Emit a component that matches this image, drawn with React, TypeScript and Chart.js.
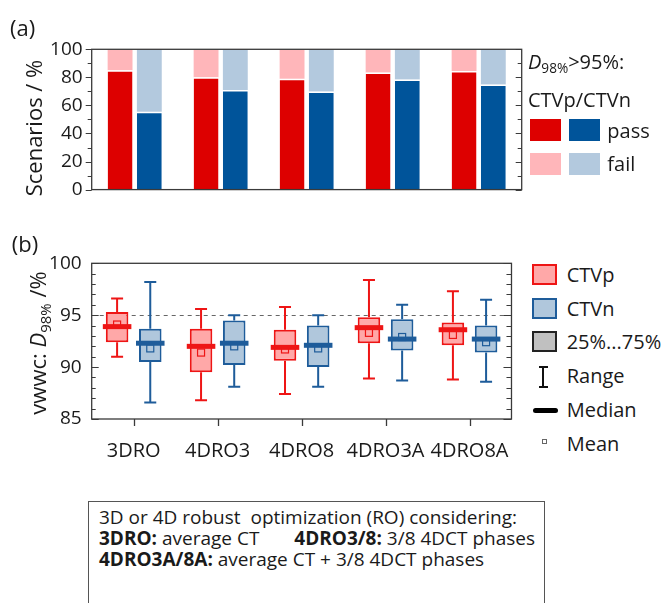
import React, { useEffect, useRef } from 'react';
import { Chart, registerables } from 'chart.js';
Chart.register(...registerables);

const FONT = "'Open Sans', 'DejaVu Sans', sans-serif";
const TEXT = '#1a1a1a';
const FRAME = '#3a3a3a';

// ---------- data ----------
const categories = ['3DRO', '4DRO3', '4DRO8', '4DRO3A', '4DRO8A'];

// panel (a): scenarios passing / failing D98% > 95 %
const passCTVp = [85, 80, 79, 83.5, 84.5];
const failCTVp = [15, 20, 21, 16.5, 15.5];
const passCTVn = [55.5, 71, 70, 78.5, 75];
const failCTVn = [44.5, 29, 30, 21.5, 25];

// panel (b): vwwc D98% box statistics
const ctvpMin = [91.0, 86.8, 87.4, 88.9, 88.8];
const ctvpQ1 = [92.4, 89.5, 90.6, 92.3, 92.1];
const ctvpMedian = [93.9, 92.0, 91.9, 93.8, 93.6];
const ctvpQ3 = [95.3, 93.7, 93.6, 94.8, 94.3];
const ctvpMax = [96.6, 95.6, 95.8, 98.4, 97.3];
const ctvpMean = [94.1, 91.4, 91.7, 93.3, 93.1];

const ctvnMin = [86.6, 88.1, 88.1, 88.7, 88.6];
const ctvnQ1 = [90.5, 90.2, 90.0, 91.6, 91.4];
const ctvnMedian = [92.3, 92.3, 92.1, 92.7, 92.7];
const ctvnQ3 = [93.7, 94.5, 94.0, 94.6, 94.0];
const ctvnMax = [98.2, 95.0, 95.0, 96.0, 96.5];
const ctvnMean = [91.8, 92.0, 91.8, 92.9, 92.4];

// ticks
const topMajorTicks = [0, 20, 40, 60, 80, 100];
const topMinorTicks = [10, 30, 50, 70, 90];
const bottomMajorTicks = [85, 90, 95, 100];
const bottomMinorTicks = [86, 87, 88, 89, 91, 92, 93, 94, 96, 97, 98, 99];
const thresholdValue = 95;

// ---------- colours ----------
const RED = '#DD0000';
const PINK = '#FFB6BA';
const BLUE = '#00549A';
const LIGHTBLUE = '#B3C9DE';
const BOX_RED_BORDER = '#EE1515';
const BOX_RED_FILL = '#FFA8A8';
const BOX_BLUE_BORDER = '#1E5C9A';
const BOX_BLUE_FILL = '#B0C7DC';

type FrameCfg = {
  majors: number[];
  minors: number[];
  leftDir: number; // -1 outward, +1 inward
  leftMajor: number;
  leftMinor: number;
  rightMajor: number;
  rightMinor: number;
  xTickLen: number;
};

function makeFramePlugin(cfg: FrameCfg) {
  return {
    id: 'frameTicks',
    afterDraw(chart: any) {
      const { ctx, chartArea: a, scales } = chart;
      const y = scales.y;
      const x = scales.x;
      ctx.save();
      ctx.strokeStyle = FRAME;
      ctx.lineWidth = 1.3;
      ctx.strokeRect(a.left, a.top, a.right - a.left, a.bottom - a.top);
      ctx.lineWidth = 1;
      const hTick = (v: number, x0: number, dx: number) => {
        const py = Math.round(y.getPixelForValue(v)) + 0.5;
        ctx.beginPath();
        ctx.moveTo(x0, py);
        ctx.lineTo(x0 + dx, py);
        ctx.stroke();
      };
      cfg.majors.forEach((v) => {
        hTick(v, a.left, cfg.leftDir * cfg.leftMajor);
        hTick(v, a.right, -cfg.rightMajor);
      });
      cfg.minors.forEach((v) => {
        hTick(v, a.left, cfg.leftDir * cfg.leftMinor);
        hTick(v, a.right, -cfg.rightMinor);
      });
      if (cfg.xTickLen > 0) {
        ctx.lineWidth = 1.3;
        categories.forEach((_, i) => {
          const px = Math.round(x.getPixelForValue(i)) + 0.5;
          ctx.beginPath();
          ctx.moveTo(px, a.bottom);
          ctx.lineTo(px, a.bottom + cfg.xTickLen);
          ctx.stroke();
        });
      }
      ctx.restore();
    },
  };
}

const boxPlugin = {
  id: 'boxExtras',
  beforeDatasetsDraw(chart: any) {
    const { ctx, chartArea: a, scales } = chart;
    const py = Math.round(scales.y.getPixelForValue(thresholdValue)) + 0.5;
    ctx.save();
    ctx.strokeStyle = '#666';
    ctx.lineWidth = 1;
    ctx.setLineDash([4, 4]);
    ctx.beginPath();
    ctx.moveTo(a.left, py);
    ctx.lineTo(a.right, py);
    ctx.stroke();
    ctx.restore();
  },
  afterDatasetsDraw(chart: any) {
    const { ctx, scales } = chart;
    const y = scales.y;
    const groups = [
      { meta: chart.getDatasetMeta(0), min: ctvpMin, q1: ctvpQ1, med: ctvpMedian, q3: ctvpQ3, max: ctvpMax, mean: ctvpMean, color: BOX_RED_BORDER },
      { meta: chart.getDatasetMeta(1), min: ctvnMin, q1: ctvnQ1, med: ctvnMedian, q3: ctvnQ3, max: ctvnMax, mean: ctvnMean, color: BOX_BLUE_BORDER },
    ];
    ctx.save();
    groups.forEach((g) => {
      g.meta.data.forEach((el: any, i: number) => {
        const x = el.x;
        const w = el.width;
        ctx.strokeStyle = g.color;
        ctx.lineWidth = 2;
        ctx.lineCap = 'butt';
        const yMax = y.getPixelForValue(g.max[i]);
        const yMin = y.getPixelForValue(g.min[i]);
        const yQ3 = y.getPixelForValue(g.q3[i]);
        const yQ1 = y.getPixelForValue(g.q1[i]);
        ctx.beginPath();
        ctx.moveTo(x, yQ3);
        ctx.lineTo(x, yMax);
        ctx.moveTo(x - 6, yMax);
        ctx.lineTo(x + 6, yMax);
        ctx.moveTo(x, yQ1);
        ctx.lineTo(x, yMin);
        ctx.moveTo(x - 6, yMin);
        ctx.lineTo(x + 6, yMin);
        ctx.stroke();
        // mean
        const yMean = y.getPixelForValue(g.mean[i]);
        ctx.lineWidth = 1.2;
        ctx.strokeRect(x - 3.5, yMean - 3.5, 7, 7);
        // median
        const yMed = y.getPixelForValue(g.med[i]);
        ctx.lineWidth = 5;
        ctx.beginPath();
        ctx.moveTo(x - w / 2 - 3, yMed);
        ctx.lineTo(x + w / 2 + 3, yMed);
        ctx.stroke();
      });
    });
    ctx.restore();
  },
};

function TopChart() {
  const ref = useRef<HTMLCanvasElement>(null);
  useEffect(() => {
    const chart = new Chart(ref.current as HTMLCanvasElement, {
      type: 'bar',
      data: {
        labels: categories,
        datasets: [
          { label: 'CTVp pass', data: passCTVp, stack: 'p', backgroundColor: RED, borderColor: '#ffffff', borderWidth: { top: 1.5, left: 0, right: 0, bottom: 0 }, borderSkipped: false },
          { label: 'CTVp fail', data: failCTVp, stack: 'p', backgroundColor: PINK, borderWidth: 0 },
          { label: 'CTVn pass', data: passCTVn, stack: 'n', backgroundColor: BLUE, borderColor: '#ffffff', borderWidth: { top: 1.5, left: 0, right: 0, bottom: 0 }, borderSkipped: false },
          { label: 'CTVn fail', data: failCTVn, stack: 'n', backgroundColor: LIGHTBLUE, borderWidth: 0 },
        ] as any,
      },
      options: {
        responsive: false,
        animation: false,
        devicePixelRatio: 1,
        layout: { padding: { left: 0, top: 49.3, right: 8.3, bottom: 10.7 } },
        datasets: { bar: { categoryPercentage: 0.68, barPercentage: 0.85 } },
        plugins: { legend: { display: false }, tooltip: { enabled: false } },
        scales: {
          x: { display: false, stacked: true },
          y: {
            stacked: true,
            min: 0,
            max: 100,
            afterFit: (s: any) => { s.width = 91.7; },
            grid: { display: false, drawTicks: false },
            border: { display: false },
            ticks: { stepSize: 20, padding: 9, color: TEXT, font: { family: FONT, size: 19 } },
          },
        },
      } as any,
      plugins: [
        makeFramePlugin({ majors: topMajorTicks, minors: topMinorTicks, leftDir: -1, leftMajor: 6, leftMinor: 4, rightMajor: 6, rightMinor: 4, xTickLen: 0 }),
      ],
    });
    return () => chart.destroy();
  }, []);
  return <canvas ref={ref} width={530} height={210} style={{ position: 'absolute', left: 0, top: 0, width: 530, height: 210 }} />;
}

function BottomChart() {
  const ref = useRef<HTMLCanvasElement>(null);
  useEffect(() => {
    const chart = new Chart(ref.current as HTMLCanvasElement, {
      type: 'bar',
      data: {
        labels: categories,
        datasets: [
          { label: 'CTVp', data: categories.map((_, i) => [ctvpQ1[i], ctvpQ3[i]]), backgroundColor: BOX_RED_FILL, borderColor: BOX_RED_BORDER, borderWidth: 2, borderSkipped: false },
          { label: 'CTVn', data: categories.map((_, i) => [ctvnQ1[i], ctvnQ3[i]]), backgroundColor: BOX_BLUE_FILL, borderColor: BOX_BLUE_BORDER, borderWidth: 2, borderSkipped: false },
        ] as any,
      },
      options: {
        responsive: false,
        animation: false,
        devicePixelRatio: 1,
        layout: { padding: { left: 0, top: 43.3, right: 8.3, bottom: 0 } },
        datasets: { bar: { categoryPercentage: 0.79, barPercentage: 0.68 } },
        plugins: { legend: { display: false }, tooltip: { enabled: false } },
        scales: {
          x: {
            afterFit: (s: any) => { s.height = 51; },
            grid: { display: false, drawTicks: false },
            border: { display: false },
            ticks: { padding: 20.7, color: TEXT, font: { family: FONT, size: 20 } },
          },
          y: {
            min: 85,
            max: 100,
            afterFit: (s: any) => { s.width = 91.7; },
            grid: { display: false, drawTicks: false },
            border: { display: false },
            ticks: { stepSize: 5, padding: 10, color: TEXT, font: { family: FONT, size: 19 } },
          },
        },
      } as any,
      plugins: [
        boxPlugin,
        makeFramePlugin({ majors: bottomMajorTicks, minors: bottomMinorTicks, leftDir: 1, leftMajor: 7, leftMinor: 4, rightMajor: 8, rightMinor: 5, xTickLen: 7 }),
      ],
    });
    return () => chart.destroy();
  }, []);
  return <canvas ref={ref} width={530} height={250} style={{ position: 'absolute', left: 0, top: 220, width: 530, height: 250 }} />;
}

function Label(props: { left: number; cy: number; size: number; children: React.ReactNode; style?: React.CSSProperties }) {
  const lh = Math.round(props.size * 1.2);
  return (
    <div style={{ position: 'absolute', left: props.left, top: props.cy - lh / 2, fontSize: props.size, lineHeight: `${lh}px`, whiteSpace: 'pre', ...props.style }}>
      {props.children}
    </div>
  );
}

function Sq(props: { left: number; top: number; w: number; h: number; fill: string; border?: string }) {
  return (
    <div style={{ position: 'absolute', left: props.left, top: props.top, width: props.w, height: props.h, background: props.fill, boxSizing: 'border-box', border: props.border ? `2px solid ${props.border}` : 'none' }} />
  );
}

const sub: React.CSSProperties = { fontSize: '0.68em', position: 'relative', top: '0.32em' };

export default function App() {
  return (
    <div style={{ position: 'absolute', left: 0, top: 0, width: 666, height: 603, overflow: 'hidden', background: '#fff', fontFamily: FONT, color: TEXT }}>
      <TopChart />
      <BottomChart />

      <Label left={10} cy={26.7} size={22}>(a)</Label>
      <Label left={11.7} cy={243} size={22}>(b)</Label>

      <div style={{ position: 'absolute', left: 32.5, top: 128.3, transform: 'translate(-50%,-50%) rotate(-90deg)', fontSize: 22, lineHeight: '26px', whiteSpace: 'nowrap' }}>Scenarios / %</div>
      <div style={{ position: 'absolute', left: 38, top: 343, transform: 'translate(-50%,-50%) rotate(-90deg)', fontSize: 22, lineHeight: '26px', whiteSpace: 'nowrap' }}>
        vwwc: <i>D</i><span style={sub}>98%</span> /%
      </div>

      {/* legend (a) */}
      <Label left={528} cy={61.7} size={20}><i>D</i><span style={sub}>98%</span>&gt;95%:</Label>
      <Label left={528} cy={100} size={20}>CTVp/CTVn</Label>
      <Sq left={530} top={119} w={31} h={22} fill={RED} />
      <Sq left={569} top={119} w={31} h={22} fill={BLUE} />
      <Sq left={530} top={153} w={31} h={22} fill={PINK} />
      <Sq left={569} top={153} w={31} h={22} fill={LIGHTBLUE} />
      <Label left={607.3} cy={130.7} size={20}>pass</Label>
      <Label left={607.3} cy={164} size={20}>fail</Label>

      {/* legend (b) */}
      <Sq left={531.7} top={264} w={25} h={21} fill={BOX_RED_FILL} border={BOX_RED_BORDER} />
      <Sq left={531.7} top={297.5} w={25} h={21} fill={BOX_BLUE_FILL} border={BOX_BLUE_BORDER} />
      <Sq left={531.7} top={331} w={25} h={21} fill="#C0C0C0" border="#222" />
      <div style={{ position: 'absolute', left: 542.3, top: 367, width: 2, height: 20, background: '#111' }} />
      <div style={{ position: 'absolute', left: 539, top: 366, width: 9, height: 2, background: '#111' }} />
      <div style={{ position: 'absolute', left: 539, top: 386, width: 9, height: 2, background: '#111' }} />
      <div style={{ position: 'absolute', left: 533, top: 408, width: 25, height: 5, borderRadius: 3, background: '#000' }} />
      <div style={{ position: 'absolute', left: 541.5, top: 439, width: 5, height: 5, boxSizing: 'border-box', border: '1px solid #666' }} />
      <Label left={566.7} cy={275} size={20}>CTVp</Label>
      <Label left={566.7} cy={309} size={20}>CTVn</Label>
      <Label left={566.7} cy={342} size={20}>25%...75%</Label>
      <Label left={566.7} cy={376} size={20}>Range</Label>
      <Label left={566.7} cy={409.5} size={20}>Median</Label>
      <Label left={566.7} cy={443.5} size={20}>Mean</Label>

      {/* description box */}
      <div style={{ position: 'absolute', left: 88, top: 500.7, width: 457, height: 120, boxSizing: 'border-box', border: '1px solid #555' }} />
      <Label left={99} cy={517.2} size={19}>3D or 4D robust  optimization (RO) considering:</Label>
      <Label left={99} cy={538.8} size={19}><b>3DRO:</b> average CT</Label>
      <Label left={294.3} cy={538.8} size={19}><b>4DRO3/8:</b> 3/8 4DCT phases</Label>
      <Label left={99} cy={559.5} size={19}><b>4DRO3A/8A:</b> average CT + 3/8 4DCT phases</Label>
    </div>
  );
}
